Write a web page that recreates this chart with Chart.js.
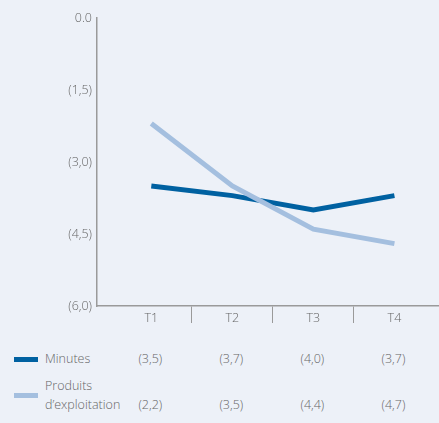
<!DOCTYPE html>
<html>
<head>
<meta charset="utf-8">
<script src="https://cdn.jsdelivr.net/npm/chart.js@4"></script>
<style>
  html, body { margin: 0; padding: 0; }
  body {
    width: 439px; height: 423px; overflow: hidden; position: relative;
    background: #edf1f8;
    font-family: "Open Sans", Lato, sans-serif; font-weight: 300; color: #666; font-size: 12.5px;
  }
  #chartBox { position: absolute; left: 0; top: 0; width: 439px; height: 340px; }
  .row { position: absolute; left: 0; width: 439px; }
  .swatch { position: absolute; left: 14px; width: 24px; height: 5px; }
  .name { position: absolute; left: 45px; line-height: 19px; white-space: pre; }
  .val { position: absolute; transform: translateX(-50%); line-height: 19px; white-space: nowrap; }
</style>
</head>
<body>
<div id="chartBox"><canvas id="grafico"></canvas></div>
<div id="tabela"></div>
<script>
// Données
const categories = ["T1", "T2", "T3", "T4"];
const minutes = [3.5, 3.7, 4.0, 3.7];
const produits = [2.2, 3.5, 4.4, 4.7];
const yTickValues = [0, 1.5, 3, 4.5, 6];
const yTickLabels = ["0.0", "(1,5)", "(3,0)", "(4,5)", "(6,0)"];
const seriesNames = ["Minutes", "Produits\nd’exploitation"];
const seriesColors = ["#0061a1", "#a4bfdf"];

const grisTexte = "#666";
const grisAxe = "#9a9a9a";
const police = { family: "'Open Sans', Lato, sans-serif", size: 12.5, weight: 300 };

// Formate 3.5 -> (3,5)
function formatVal(v) {
  return "(" + v.toFixed(1).replace(".", ",") + ")";
}

function pts(values) {
  return values.map((v, i) => ({ x: i, y: v }));
}

// Tableau sous le graphique
const lignes = [
  { nom: seriesNames[0], couleur: seriesColors[0], valeurs: minutes, top: 349, swatchTop: 8, valTop: 0 },
  { nom: seriesNames[1], couleur: seriesColors[1], valeurs: produits, top: 376, swatchTop: 17, valTop: 19 },
];
const tabela = document.getElementById("tabela");
const cellules = [];
lignes.forEach((l) => {
  const row = document.createElement("div");
  row.className = "row";
  row.style.top = l.top + "px";
  const sw = document.createElement("div");
  sw.className = "swatch";
  sw.style.background = l.couleur;
  sw.style.top = l.swatchTop + "px";
  row.appendChild(sw);
  const nm = document.createElement("div");
  nm.className = "name";
  nm.textContent = l.nom;
  row.appendChild(nm);
  l.valeurs.forEach((v, i) => {
    const c = document.createElement("div");
    c.className = "val";
    c.style.top = l.valTop + "px";
    c.textContent = formatVal(v);
    row.appendChild(c);
    cellules.push({ el: c, i: i });
  });
  tabela.appendChild(row);
});

// Positionne les valeurs sous chaque catégorie
const placerTableau = {
  id: "placerTableau",
  afterRender(chart) {
    const x = chart.scales.x;
    cellules.forEach((c) => {
      c.el.style.left = x.getPixelForValue(c.i) - 1 + "px";
    });
  },
};

const ctx = document.getElementById("grafico").getContext("2d");
new Chart(ctx, {
  type: "line",
  data: {
    datasets: [
      {
        label: "Minutes",
        data: pts(minutes),
        borderColor: seriesColors[0],
        borderWidth: 5,
        pointRadius: 0,
        tension: 0,
        order: 1,
      },
      {
        label: "Produits d’exploitation",
        data: pts(produits),
        borderColor: seriesColors[1],
        borderWidth: 5,
        pointRadius: 0,
        tension: 0,
        order: 0,
      },
    ],
  },
  options: {
    responsive: true,
    maintainAspectRatio: false,
    animation: false,
    layout: { padding: { top: 18, right: 0, left: 0, bottom: 0 } },
    plugins: { legend: { display: false }, tooltip: { enabled: false } },
    scales: {
      x: {
        type: "linear",
        min: -0.67,
        max: 3.55,
        afterBuildTicks: (scale) => {
          const t = [];
          categories.forEach((c, i) => {
            t.push({ value: i });
            if (i < categories.length - 1) t.push({ value: i + 0.5 });
          });
          scale.ticks = t;
        },
        afterFit: (scale) => { scale.height = 34; },
        ticks: {
          autoSkip: false,
          maxRotation: 0,
          padding: -12,
          color: grisTexte,
          font: police,
          callback: (v) => (Number.isInteger(v) ? categories[v] : ""),
        },
        grid: {
          drawOnChartArea: false,
          drawTicks: true,
          tickLength: 17,
          lineWidth: 1,
          color: (c) => (c.tick && !Number.isInteger(c.tick.value) ? grisAxe : "rgba(0,0,0,0)"),
        },
        border: { display: true, color: grisAxe, width: 1.5 },
      },
      y: {
        reverse: true,
        min: 0,
        max: 6,
        afterBuildTicks: (scale) => {
          scale.ticks = yTickValues.map((v) => ({ value: v }));
        },
        afterFit: (scale) => { scale.width = 97; },
        ticks: {
          padding: 5,
          color: grisTexte,
          font: police,
          callback: (v) => yTickLabels[yTickValues.indexOf(v)],
        },
        grid: { display: false, drawTicks: false },
        border: { display: true, color: grisAxe, width: 1.5 },
      },
    },
  },
  plugins: [placerTableau],
});
</script>
</body>
</html>
